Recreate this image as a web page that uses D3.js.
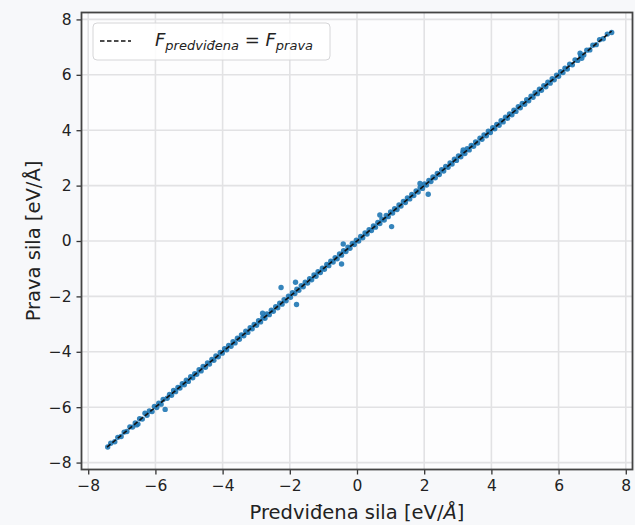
<!DOCTYPE html>
<html>
<head>
<meta charset="utf-8">
<script src="https://cdn.jsdelivr.net/npm/d3@7"></script>
<style>
  html, body { margin: 0; padding: 0; background: #f7f8fa; }
  svg { display: block; }
  text { font-family: "DejaVu Sans", sans-serif; fill: #222; }
</style>
</head>
<body>
<svg id="chart" width="635" height="525"></svg>
<script>
// predicted vs true force, [predicted, true] in eV/Å
const forcePairs = [
  [-7.42,-7.44],[-7.33,-7.30],[-7.21,-7.25],[-7.12,-7.09],[-7.02,-7.06],[-6.93,-6.90],
  [-6.85,-6.88],[-6.76,-6.71],[-6.68,-6.72],[-6.60,-6.57],[-6.56,-6.64],[-6.52,-6.61],
  [-6.47,-6.42],[-6.39,-6.43],[-6.31,-6.22],[-6.25,-6.29],[-6.18,-6.14],[-6.10,-6.16],
  [-6.03,-5.97],[-5.96,-6.01],[-5.90,-5.86],[-5.83,-5.89],[-5.77,-5.72],[-5.71,-6.08],
  [-5.65,-5.68],[-5.58,-5.54],[-5.52,-5.57],[-5.46,-5.40],[-5.40,-5.44],[-5.33,-5.29],
  [-5.27,-5.31],[-5.20,-5.15],[-5.14,-5.19],[-5.08,-5.03],[-5.02,-5.07],[-4.95,-4.90],
  [-4.89,-4.94],[-4.83,-4.79],[-4.77,-4.81],[-4.70,-4.65],[-4.64,-4.69],[-4.58,-4.53],
  [-4.51,-4.56],[-4.45,-4.40],[-4.39,-4.44],[-4.32,-4.28],[-4.26,-4.31],[-4.20,-4.15],
  [-4.13,-4.18],[-4.07,-4.02],[-4.01,-4.05],[-3.94,-3.89],[-3.88,-3.93],[-3.82,-3.77],
  [-3.75,-3.80],[-3.69,-3.64],[-3.63,-3.68],[-3.56,-3.51],[-3.50,-3.55],[-3.44,-3.39],
  [-3.37,-3.42],[-3.31,-3.26],[-3.25,-3.30],[-3.18,-3.13],[-3.12,-3.17],[-3.06,-3.01],
  [-2.99,-3.04],[-2.93,-2.88],[-2.87,-2.92],[-2.81,-2.61],[-2.80,-2.76],[-2.74,-2.79],
  [-2.68,-2.63],[-2.61,-2.66],[-2.55,-2.50],[-2.49,-2.54],[-2.42,-2.37],[-2.36,-2.41],
  [-2.30,-2.25],[-2.26,-1.68],[-2.23,-2.28],[-2.17,-2.12],[-2.11,-2.16],[-2.04,-1.99],
  [-1.98,-2.03],[-1.92,-1.87],[-1.85,-1.90],[-1.83,-1.49],[-1.80,-2.29],[-1.79,-1.74],
  [-1.73,-1.78],[-1.66,-1.61],[-1.60,-1.65],[-1.54,-1.49],[-1.47,-1.52],[-1.41,-1.36],
  [-1.35,-1.40],[-1.28,-1.23],[-1.22,-1.27],[-1.16,-1.11],[-1.09,-1.14],[-1.03,-0.98],
  [-0.97,-1.02],[-0.90,-0.85],[-0.84,-0.89],[-0.78,-0.73],[-0.71,-0.76],[-0.65,-0.60],
  [-0.59,-0.64],[-0.52,-0.47],[-0.46,-0.83],[-0.46,-0.51],[-0.41,-0.11],[-0.40,-0.35],
  [-0.33,-0.38],[-0.27,-0.22],[-0.21,-0.26],[-0.14,-0.09],[-0.08,-0.13],[-0.02,0.03],
  [0.05,0.00],[0.11,0.16],[0.17,0.12],[0.24,0.29],[0.30,0.25],[0.36,0.41],
  [0.43,0.38],[0.49,0.54],[0.55,0.50],[0.62,0.67],[0.68,0.94],[0.68,0.63],
  [0.74,0.79],[0.81,0.76],[0.87,0.92],[0.93,0.88],[1.00,1.05],[1.03,0.52],
  [1.06,1.01],[1.12,1.17],[1.19,1.14],[1.25,1.30],[1.31,1.26],[1.38,1.43],
  [1.44,1.39],[1.50,1.55],[1.57,1.52],[1.63,1.68],[1.69,1.64],[1.76,1.81],
  [1.82,1.77],[1.875,2.08],[1.88,1.93],[1.95,1.90],[2.01,2.06],[2.07,2.02],
  [2.12,1.69],[2.14,2.19],[2.20,2.15],[2.26,2.31],[2.33,2.28],[2.39,2.44],
  [2.45,2.40],[2.52,2.57],[2.58,2.53],[2.64,2.69],[2.71,2.66],[2.77,2.82],
  [2.83,2.78],[2.90,2.95],[2.96,2.91],[3.02,3.07],[3.09,3.04],[3.15,3.20],
  [3.16,3.29],[3.21,3.16],[3.28,3.33],[3.34,3.29],[3.40,3.45],[3.47,3.42],
  [3.53,3.58],[3.59,3.54],[3.66,3.71],[3.72,3.67],[3.78,3.83],[3.85,3.80],
  [3.91,3.96],[3.97,3.92],[4.04,4.09],[4.10,4.05],[4.16,4.21],[4.23,4.18],
  [4.29,4.34],[4.35,4.30],[4.42,4.47],[4.48,4.43],[4.54,4.59],[4.61,4.56],
  [4.67,4.72],[4.73,4.68],[4.80,4.85],[4.86,4.81],[4.92,4.97],[4.99,4.94],
  [5.05,5.10],[5.11,5.06],[5.18,5.23],[5.24,5.19],[5.30,5.35],[5.37,5.32],
  [5.43,5.48],[5.49,5.44],[5.56,5.61],[5.62,5.57],[5.68,5.73],[5.75,5.70],
  [5.81,5.86],[5.87,5.82],[5.94,5.99],[6.00,5.95],[6.06,6.11],[6.13,6.08],
  [6.19,6.24],[6.26,6.21],[6.33,6.38],[6.41,6.36],[6.49,6.54],[6.57,6.52],
  [6.64,6.78],[6.69,6.60],[6.66,6.69],[6.75,6.72],[6.84,6.89],[6.93,6.90],
  [7.02,7.07],[7.12,7.09],[7.22,7.27],[7.33,7.30],[7.45,7.47],[7.58,7.53]
];
const xTicks = [-8, -6, -4, -2, 0, 2, 4, 6, 8];
const yTicks = [-8, -6, -4, -2, 0, 2, 4, 6, 8];
const xLabel = "Predviđena sila [eV/";
const yLabel = "Prava sila [eV/Å]";

const svg = d3.select("#chart");
const margin = { left: 81.5, right: 2.5, top: 12.5, bottom: 55.5 };
const W = 635, H = 525;

const x = d3.scaleLinear().domain([-8.2, 8.2]).range([margin.left, W - margin.right]);
const y = d3.scaleLinear().domain([-8.25, 8.25]).range([H - margin.bottom, margin.top]);

// plot background
svg.append("rect")
  .attr("x", x.range()[0]).attr("y", y.range()[1])
  .attr("width", x.range()[1] - x.range()[0])
  .attr("height", y.range()[0] - y.range()[1])
  .attr("fill", "#fdfdfe");

// grid
const grid = svg.append("g");
grid.selectAll(".gx").data(xTicks).enter().append("line")
  .attr("x1", d => x(d)).attr("x2", d => x(d))
  .attr("y1", y.range()[1]).attr("y2", y.range()[0])
  .attr("stroke", "#e2e2e4").attr("stroke-width", 1.6);
grid.selectAll(".gy").data(yTicks).enter().append("line")
  .attr("y1", d => y(d)).attr("y2", d => y(d))
  .attr("x1", x.range()[0]).attr("x2", x.range()[1])
  .attr("stroke", "#e2e2e4").attr("stroke-width", 1.6);

// scatter
svg.append("g").selectAll("circle")
  .data(forcePairs)
  .enter().append("circle")
  .attr("cx", d => x(d[0]))
  .attr("cy", d => y(d[1]))
  .attr("r", 2.7)
  .attr("fill", "#1f77b4")
  .attr("fill-opacity", 0.9);

// ideal line from min to max
const ext = d3.extent(forcePairs.flat());
svg.append("line")
  .attr("x1", x(ext[0])).attr("y1", y(ext[0]))
  .attr("x2", x(ext[1])).attr("y2", y(ext[1]))
  .attr("stroke", "#111").attr("stroke-width", 1.6)
  .attr("stroke-dasharray", "4.5,2.5");

// axes
const fmt = d => d3.format("")(d).replace("-", "\u2212");
const xAxis = svg.append("g")
  .attr("transform", `translate(0,${y.range()[0]})`)
  .call(d3.axisBottom(x).tickValues(xTicks).tickFormat(fmt).tickSize(5).tickPadding(5));
const yAxis = svg.append("g")
  .attr("transform", `translate(${x.range()[0]},0)`)
  .call(d3.axisLeft(y).tickValues(yTicks).tickFormat(fmt).tickSize(5).tickPadding(5));
[xAxis, yAxis].forEach(a => {
  a.selectAll("text").style("font-size", "15.5px").attr("fill", "#222");
  a.selectAll(".tick line").attr("stroke", "#333").attr("stroke-width", 1.3);
  a.select(".domain").remove();
});

// spines
svg.append("rect")
  .attr("x", x.range()[0]).attr("y", y.range()[1])
  .attr("width", x.range()[1] - x.range()[0])
  .attr("height", y.range()[0] - y.range()[1])
  .attr("fill", "none").attr("stroke", "#444").attr("stroke-width", 1.8);

// axis labels
const xl = svg.append("text")
  .attr("x", x(0)).attr("y", 519)
  .attr("text-anchor", "middle")
  .style("font-size", "19.5px");
xl.append("tspan").text(xLabel);
xl.append("tspan").style("font-style", "italic").text("Å");
xl.append("tspan").text("]");
svg.append("text")
  .attr("transform", `translate(40,${y(0)}) rotate(-90)`)
  .attr("text-anchor", "middle")
  .style("font-size", "19.5px")
  .text(yLabel);

// legend
const lg = svg.append("g").attr("transform", "translate(93,23)");
lg.append("rect")
  .attr("width", 237).attr("height", 37).attr("rx", 4)
  .attr("fill", "#ffffff").attr("fill-opacity", 0.85)
  .attr("stroke", "#d6d6d8").attr("stroke-width", 1);
lg.append("line")
  .attr("x1", 7).attr("x2", 38).attr("y1", 18).attr("y2", 18)
  .attr("stroke", "#111").attr("stroke-width", 1.6)
  .attr("stroke-dasharray", "4.5,2.5");
const lt = lg.append("text").attr("x", 62).attr("y", 23).style("font-size", "18px");
lt.append("tspan").style("font-style", "italic").text("F");
lt.append("tspan").style("font-style", "italic").style("font-size", "13px").attr("dy", 4).text("predviđena");
lt.append("tspan").attr("dy", -4).text(" = ");
lt.append("tspan").style("font-style", "italic").text("F");
lt.append("tspan").style("font-style", "italic").style("font-size", "13px").attr("dy", 4).text("prava");
</script>
</body>
</html>
